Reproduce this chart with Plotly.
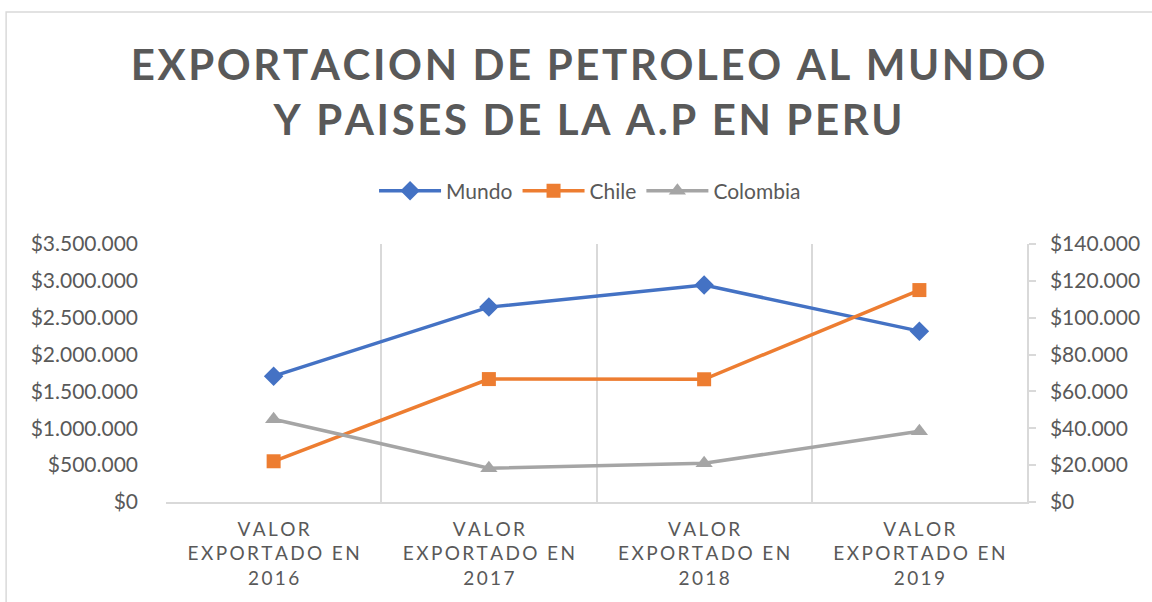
import plotly.graph_objects as go

# ---- data ----
categories = ["VALOR EXPORTADO EN 2016", "VALOR EXPORTADO EN 2017",
              "VALOR EXPORTADO EN 2018", "VALOR EXPORTADO EN 2019"]
mundo = [1707000, 2644000, 2943000, 2318000]      # left axis
chile = [22100, 66700, 66600, 115000]              # right axis
colombia = [44900, 18300, 21000, 38400]            # right axis
title_lines = ["EXPORTACION DE PETROLEO AL MUNDO", "Y PAISES DE LA A.P EN PERU"]

TXT = "#595959"
GRID = "#d9d9d9"
FONT = "Lato"

def spaced(s, sep):
    return sep.join(list(s))

def cat_label(c):
    words = c.split(" ")
    lines = [words[0], " ".join(words[1:3]), words[3]]
    return "<br>".join(spaced(l, "\u2009") for l in lines)

xpos = list(range(len(categories)))
ticktext = [cat_label(c) for c in categories]

fig = go.Figure()
fig.add_trace(go.Scatter(x=xpos, y=mundo, name="Mundo", mode="lines+markers",
                         line=dict(color="#4472C4", width=3.5),
                         marker=dict(symbol="diamond", size=15, color="#4472C4")))
fig.add_trace(go.Scatter(x=xpos, y=chile, name="Chile", mode="lines+markers", yaxis="y2",
                         line=dict(color="#ED7D31", width=3.5),
                         marker=dict(symbol="square", size=14, color="#ED7D31")))
fig.add_trace(go.Scatter(x=xpos, y=colombia, name="Colombia", mode="lines+markers", yaxis="y2",
                         line=dict(color="#A5A5A5", width=3.5),
                         marker=dict(symbol="triangle-up", size=15, color="#A5A5A5")))

L, R, T, B = 166, 1152 - 1033, 244, 602 - 502
W, H = 1152 - L - R, 602 - T - B

fig.update_layout(
    width=1152, height=602,
    margin=dict(l=L, r=R, t=T, b=B),
    paper_bgcolor="white", plot_bgcolor="white",
    separators=",.",
    font=dict(family=FONT, color=TXT),
    title=dict(text="<br>".join(spaced(t, "\u200a") for t in title_lines),
               x=588 / 1152, xanchor="center", xref="container",
               y=1 - 80 / 602, yanchor="middle", yref="container",
               font=dict(family=FONT, size=42, color=TXT, weight="bold")),
    legend=dict(orientation="h", x=(593 - L) / W, xanchor="center",
                y=(502 - 191) / H, yanchor="middle",
                font=dict(size=21, color=TXT), itemwidth=62,
                bgcolor="rgba(0,0,0,0)"),
    showlegend=True,
    xaxis=dict(range=[-0.5, 3.5], tickmode="array", tickvals=xpos, ticktext=ticktext,
               showgrid=False, zeroline=False, showline=True, linecolor=GRID, linewidth=1.5,
               ticks="", ticklabelstandoff=9,
               tickfont=dict(size=19, color=TXT),
               minor=dict(tickmode="array", tickvals=[-0.5, 0.5, 1.5, 2.5, 3.5],
                          showgrid=True, gridcolor=GRID, gridwidth=1.5, ticks="")),
    yaxis=dict(range=[0, 3500000], dtick=500000, tickprefix="$", tickformat=",d",
               showgrid=False, zeroline=False, showline=False,
               ticks="", ticklabelstandoff=27, tickfont=dict(size=21, color=TXT)),
    yaxis2=dict(range=[0, 140000], dtick=20000, tickprefix="$", tickformat=",d",
                overlaying="y", side="right", showgrid=False, zeroline=False,
                showline=True, linecolor=GRID, linewidth=1.5,
                ticks="outside", ticklen=7, tickcolor=GRID, tickwidth=1.5,
                ticklabelstandoff=10, tickfont=dict(size=21, color=TXT)),
    shapes=[dict(type="rect", xref="paper", yref="paper",
                 x0=(5 - L) / W, x1=1.3, y0=-0.6, y1=(502 - 12) / H,
                 line=dict(color=GRID, width=1.5), fillcolor="rgba(0,0,0,0)", layer="below")],
)

fig.write_html("out.html", config={"displayModeBar": False},
               post_script="document.body.style.margin='0px';")
